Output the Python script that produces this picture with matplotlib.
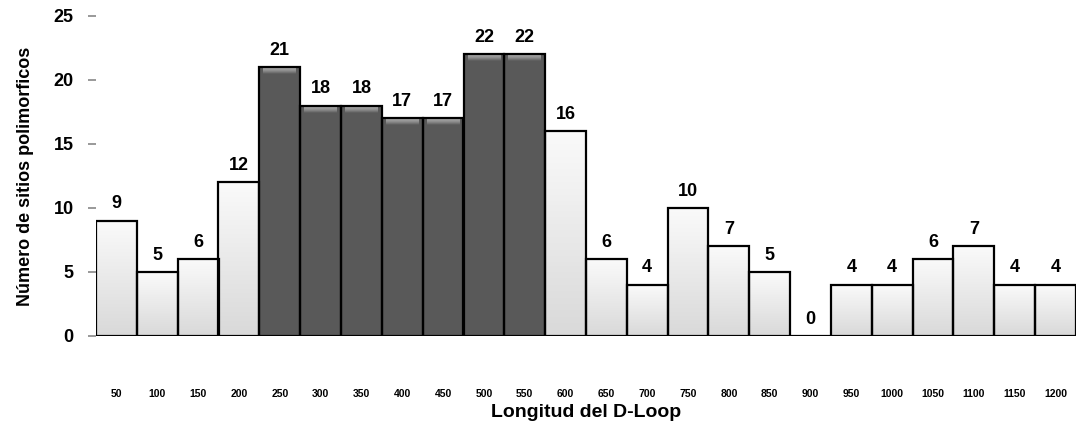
import matplotlib
matplotlib.use('agg')
import matplotlib.pyplot as plt
import numpy as np

plt.rcParams['font.family'] = ['Liberation Sans', 'DejaVu Sans']
plt.rcParams['font.weight'] = 'bold'

categories = ['50', '100', '150', '200', '250', '300', '350', '400', '450', '500', '550', '600',
              '650', '700', '750', '800', '850', '900', '950', '1000', '1050', '1100', '1150', '1200']
values = [9, 5, 6, 12, 21, 18, 18, 17, 17, 22, 22, 16, 6, 4, 10, 7, 5, 0, 4, 4, 6, 7, 4, 4]
dark = ['250', '300', '350', '400', '450', '500', '550']

fig = plt.figure(figsize=(10.82, 4.3), dpi=100)
ax = fig.add_axes([96/1082, 1-336/430, (1076-96)/1082, (336-16)/430])

x = list(range(len(categories)))
colors = ['#595959' if c in dark else '#ebebeb' for c in categories]
bars = ax.bar(x, values, width=1.0, color=colors, edgecolor='none', zorder=1)

ax.set_xlim(-0.5, len(categories)-0.5)
ax.set_ylim(0, 25)

# shading inside the bars, clipped to each bar
light_cm = matplotlib.colors.LinearSegmentedColormap.from_list('l', ['#d9d9d9', '#fafafa'])
dark_cm = matplotlib.colors.LinearSegmentedColormap.from_list('d', ['#595959', '#8a8a8a', '#a8a8a8'])
grad = np.linspace(0, 1, 64).reshape(-1, 1)
for b, c in zip(bars, categories):
    x0, w, h = b.get_x(), b.get_width(), b.get_height()
    if h == 0:
        continue
    if c in dark:
        # thin bevel highlight under the top edge
        im = ax.imshow(grad, extent=[x0 + 0.1, x0 + w - 0.1, h - 0.55, h - 0.1], origin='lower',
                       cmap=dark_cm, aspect='auto', zorder=1.5)
    else:
        im = ax.imshow(grad, extent=[x0, x0 + w, 0, h], origin='lower', cmap=light_cm,
                       aspect='auto', zorder=1.5)
    im.set_clip_path(b)

ax.bar(x, values, width=1.0, color='none', edgecolor='black', linewidth=1.6, zorder=2)

for xi, v in zip(x, values):
    ax.annotate(str(v), (xi, v), xytext=(0, 6), textcoords='offset points',
                ha='center', va='bottom', fontsize=13, fontweight='bold')

ax.set_xlim(-0.5, len(categories)-0.5)
ax.set_ylim(0, 25)
ax.set_yticks([0, 5, 10, 15, 20, 25])
ax.set_xticks(x)
ax.set_xticklabels(categories, fontsize=7.5, fontweight='bold')
ax.tick_params(axis='x', length=0, pad=38)
ax.tick_params(axis='y', length=6, width=1.2, color='#888888', labelsize=13, pad=10)

for s in ['top', 'right', 'left', 'bottom']:
    ax.spines[s].set_visible(False)

ax.set_ylabel('Número de sitios polimorficos', fontsize=13, fontweight='bold', labelpad=14)
ax.set_xlabel('Longitud del D-Loop', fontsize=14, fontweight='bold', labelpad=4)

fig.savefig('out.png', dpi=100)
